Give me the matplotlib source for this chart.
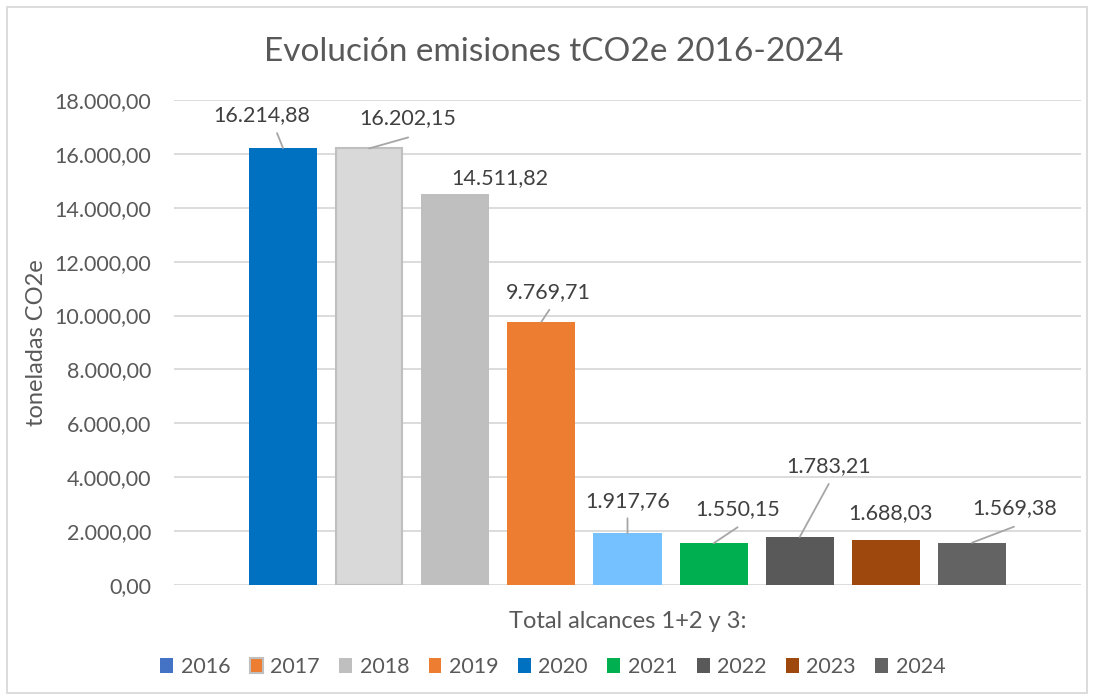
import matplotlib
matplotlib.use("Agg")
import matplotlib.pyplot as plt
from matplotlib.patches import Patch, Rectangle

years = ["2016", "2017", "2018", "2019", "2020", "2021", "2022", "2023", "2024"]
emissions = [16214.88, 16202.15, 14511.82, 9769.71, 1917.76, 1550.15, 1783.21, 1688.03, 1569.38]
yticks = [0, 2000, 4000, 6000, 8000, 10000, 12000, 14000, 16000, 18000]

bar_colors = ["#0070C0", "#D9D9D9", "#BFBFBF", "#ED7D31", "#75C1FF",
              "#00B050", "#595959", "#9E480E", "#636363"]
legend_colors = ["#4472C4", "#ED7D31", "#BFBFBF", "#ED7D31", "#0070C0",
                 "#00B050", "#595959", "#9E480E", "#636363"]

# label centre offset from bar top (pixels) and leader end (None = no leader)
label_offsets = [(-21, 33), (39, 30), (45, 16), (7, 30), (0, 32),
                 (24, 34), (29, 71), (5, 26), (43, 35)]
leader_ends = [(-6, 15), (39, 11), None, (8, 12), (0, 15),
               (24, 16), (29, 53), None, (42, 16)]


def fmt(v):
    s = f"{v:,.2f}"
    return s.replace(",", "X").replace(".", ",").replace("X", ".")


plt.rcParams["font.family"] = ["Lato", "DejaVu Sans"]
text_col = "#595959"

fig = plt.figure(figsize=(10.94, 6.99), dpi=100)
ax = fig.add_axes([174 / 1094, 1 - 585 / 699, 907 / 1094, 485 / 699])

x = list(range(len(years)))
ax.bar(x, emissions, width=0.79, color=bar_colors, zorder=2)
# 2017 bar has a grey outline
ax.bar(x[1], emissions[1], width=0.79 - 0.02, color=bar_colors[1],
       edgecolor="#BFBFBF", linewidth=1.5, zorder=2)

for xi, v, off, lead in zip(x, emissions, label_offsets, leader_ends):
    ax.annotate(fmt(v), xy=(xi, v), xytext=off, textcoords="offset pixels",
                ha="center", va="center", fontsize=15.5, color="#404040")
    if lead is not None:
        ax.annotate("", xy=(xi, v), xytext=lead, textcoords="offset pixels",
                    arrowprops=dict(arrowstyle="-", color="#A6A6A6", lw=1.3,
                                    shrinkA=0, shrinkB=0))

ax.set_xlim(-1.266, 8 + 1.266)
ax.set_ylim(0, 18000)
ax.set_yticks(yticks)
ax.set_yticklabels([fmt(t) for t in yticks], fontsize=15.5, color=text_col)
ax.tick_params(axis="y", length=0, pad=16.5)
ax.set_xticks([])
ax.grid(axis="y", color="#D9D9D9", linewidth=1.3, zorder=0)
for s in ax.spines.values():
    s.set_visible(False)

ax.set_ylabel("toneladas CO2e", fontsize=17, color=text_col, labelpad=5)
ax.set_xlabel("Total alcances 1+2 y 3:", fontsize=17, color=text_col, labelpad=19)
fig.text(554 / 1094, 1 - 52 / 699, "Evolución emisiones tCO2e 2016-2024",
         ha="center", va="center", fontsize=24, color=text_col)

handles = [Patch(facecolor=c, edgecolor=("#BFBFBF" if i == 1 else c),
                 linewidth=(1.5 if i == 1 else 0))
           for i, c in enumerate(legend_colors)]
fig.legend(handles, years, loc="center", bbox_to_anchor=(553 / 1094, 1 - 667 / 699),
           ncol=9, frameon=False, fontsize=15.5, handlelength=0.6, handleheight=0.75,
           handletextpad=0.35, columnspacing=0.9, labelcolor=text_col)

fig.patches.append(Rectangle((7 / 1094, 6 / 699), 1080 / 1094, 686 / 699,
                             transform=fig.transFigure, fill=False,
                             edgecolor="#D9D9D9", linewidth=1.3))

fig.savefig("out.png", dpi=100)
